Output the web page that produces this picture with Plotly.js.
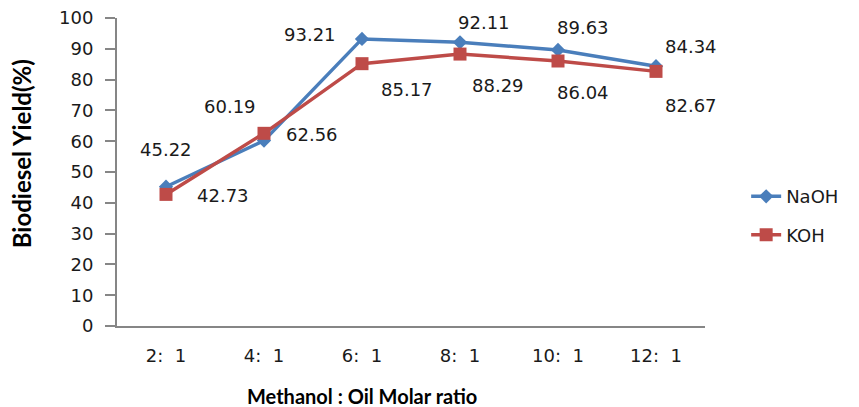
<!DOCTYPE html>
<html>
<head>
<meta charset="utf-8">
<script src="https://cdn.plot.ly/plotly-3.0.1.min.js"></script>
<style>html,body{margin:0;padding:0;background:#fff;}#chart{width:859px;height:407px;}</style>
</head>
<body>
<div id="chart"></div>
<script>
const categories = ["2:  1", "4:  1", "6:  1", "8:  1", "10:  1", "12:  1"];
const naohValues = [45.22, 60.19, 93.21, 92.11, 89.63, 84.34];
const kohValues = [42.73, 62.56, 85.17, 88.29, 86.04, 82.67];
const yTicks = [0, 10, 20, 30, 40, 50, 60, 70, 80, 90, 100];

// label offsets (pixels) mimicking the original label placement
const naohOffsets = [[0, 37], [-34, 34], [-52, 4], [24, 20], [25, 22], [35, 20]];
const kohOffsets = [[57, -1], [48, -1], [45, -26], [38, -31], [25, -31], [35, -34]];

const textFamily = "DejaVu Sans, Verdana, sans-serif";
const labelFont = {family: textFamily, size: 18, color: "#1a1a1a"};
const titleFamily = "Lato, Open Sans, sans-serif";

const annotations = [];
categories.forEach((c, i) => {
  annotations.push({x: c, y: naohValues[i], xref: "x", yref: "y", text: naohValues[i].toFixed(2),
    showarrow: false, xshift: naohOffsets[i][0], yshift: naohOffsets[i][1], font: labelFont});
  annotations.push({x: c, y: kohValues[i], xref: "x", yref: "y", text: kohValues[i].toFixed(2),
    showarrow: false, xshift: kohOffsets[i][0], yshift: kohOffsets[i][1], font: labelFont});
});
annotations.push({xref: "paper", yref: "paper", x: 0.4167, y: 0, yshift: -70, xanchor: "center", yanchor: "middle",
  text: "<b>Methanol : Oil Molar ratio</b>", showarrow: false,
  font: {family: titleFamily, size: 20, color: "#000"}});
annotations.push({xref: "paper", yref: "paper", x: -0.162, y: 0.56, xanchor: "center", yanchor: "middle",
  textangle: -90, text: "<b>Biodiesel Yield(%)</b>", showarrow: false,
  font: {family: titleFamily, size: 24, color: "#000"}});

const traces = [
  {x: categories, y: naohValues, name: "NaOH", legendgroup: "a", type: "scatter", mode: "lines+markers",
   line: {color: "#4a7ebb", width: 3.5}, marker: {symbol: "diamond", size: 11, color: "#4a7ebb"}},
  {x: categories, y: kohValues, name: "KOH", legendgroup: "b", type: "scatter", mode: "lines+markers",
   line: {color: "#be4b48", width: 3.5}, marker: {symbol: "square", size: 13, color: "#be4b48"}}
];

const layout = {
  width: 859, height: 407,
  margin: {l: 117, r: 154, t: 18, b: 81},
  paper_bgcolor: "#fff", plot_bgcolor: "#fff",
  showlegend: true,
  legend: {x: 1.07, y: 0.48, xanchor: "left", yanchor: "top", tracegroupgap: 12,
    font: {family: textFamily, size: 18, color: "#1a1a1a"}},
  xaxis: {type: "category", range: [-0.5, 5.5], showgrid: false, zeroline: false,
    showline: true, linecolor: "#868686", linewidth: 2, ticks: "", ticklabelstandoff: 12,
    tickfont: {family: textFamily, size: 18, color: "#1a1a1a"}},
  yaxis: {range: [0, 100], tickvals: yTicks, showgrid: false, zeroline: false,
    showline: true, linecolor: "#868686", linewidth: 2, ticks: "outside", ticklen: 10, tickcolor: "#868686", tickwidth: 2,
    ticklabelstandoff: 8,
    tickfont: {family: textFamily, size: 18, color: "#1a1a1a"}},
  annotations: annotations
};

Plotly.newPlot("chart", traces, layout, {displayModeBar: false, staticPlot: true});
</script>
</body>
</html>
